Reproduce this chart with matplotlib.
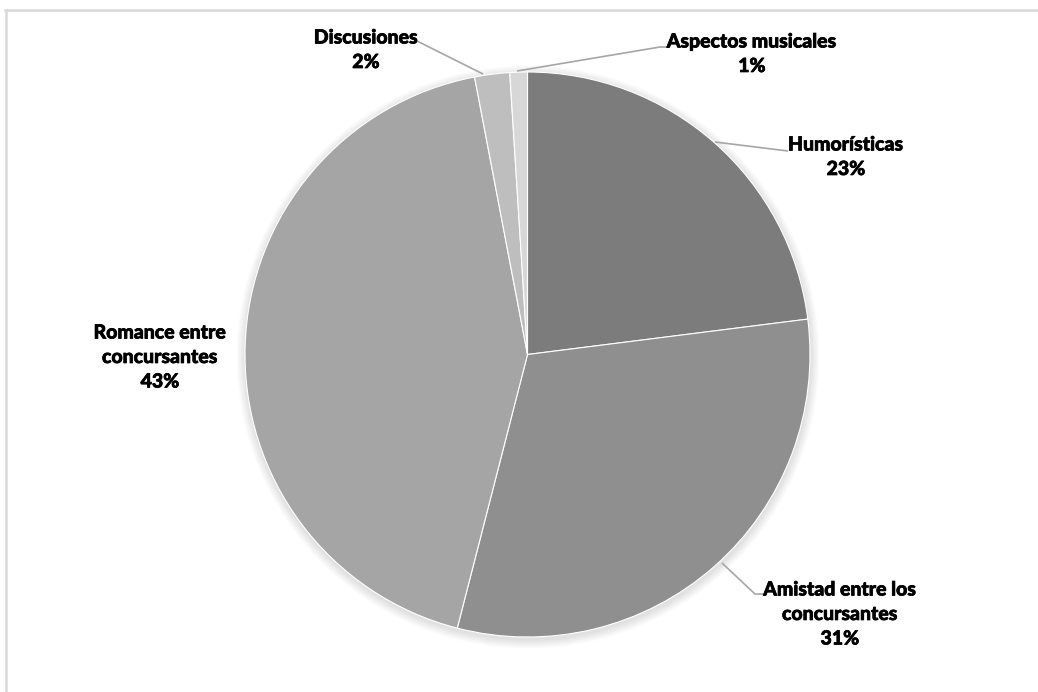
import numpy as np
import matplotlib
matplotlib.use("Agg")
import matplotlib.pyplot as plt
import matplotlib.patheffects as pe
from matplotlib import font_manager

# Theme distribution of the commented scenes
categories = ["Humorísticas", "Amistad entre los\nconcursantes", "Romance entre\nconcursantes",
              "Discusiones", "Aspectos musicales"]
shares = [23, 31, 43, 2, 1]
colors = ["#7c7c7c", "#8f8f8f", "#a5a5a5", "#bebebe", "#d7d7d7"]

names = {f.name for f in font_manager.fontManager.ttflist}
family = [f for f in ["Lato", "Open Sans", "DejaVu Sans"] if f in names]

W, H = 1038, 692
fig = plt.figure(figsize=(W / 100, H / 100), dpi=100)
ax = fig.add_axes([0, 0, 1, 1])

cx, cy, r = 527.5, 354.5, 282.5

# soft drop shadow behind the pie
for i in range(10, 0, -1):
    ax.add_patch(plt.Circle((cx + 0.5, cy + 2.5), r + i * 0.9, color="black",
                            alpha=0.012, lw=0, zorder=1))

# y axis is inverted, so counterclock=True draws clockwise on screen
wedges, _ = ax.pie(shares, colors=colors, startangle=-90, counterclock=True,
                   center=(cx, cy), radius=r, frame=True,
                   wedgeprops=dict(edgecolor="white", linewidth=0.8, zorder=2))
ax.set_xlim(0, W)
ax.set_ylim(H, 0)
ax.set_aspect("equal")
ax.axis("off")

# label anchors: centre x and centre y of the first line
label_pos = [(846, 145), (840, 590), (160, 333), (366, 38), (752, 42)]
line_step = 24.5
# leader lines: start on the slice, then to the label
leader = [
    [(715, 142), (788, 151)],
    [(722, 563), (755, 594), (763, 594)],
    None,
    [(483, 74), (417, 41)],
    [(517, 71), (660, 47), (670, 47)],
]

bold = [pe.withStroke(linewidth=0.5, foreground="black")]
for i, (name, val) in enumerate(zip(categories, shares)):
    x, y = label_pos[i]
    lines = name.split("\n") + [f"{val}%"]
    for k, line in enumerate(lines):
        ax.text(x, y + k * line_step, line, ha="center", va="center", fontsize=14,
                fontweight=900, family=family, color="black", zorder=5,
                path_effects=bold)
    if leader[i]:
        xs, ys = zip(*leader[i])
        ax.plot(xs, ys, color="#a6a6a6", lw=1.2, zorder=4, solid_capstyle="butt")

# chart area border (top and left edges)
ax.plot([5, W], [9.5, 9.5], color="#d9d9d9", lw=1.8, zorder=0)
ax.plot([5.5, 5.5], [9.5, H], color="#d9d9d9", lw=1.8, zorder=0)

fig.savefig("out.png", dpi=100, facecolor="white")
